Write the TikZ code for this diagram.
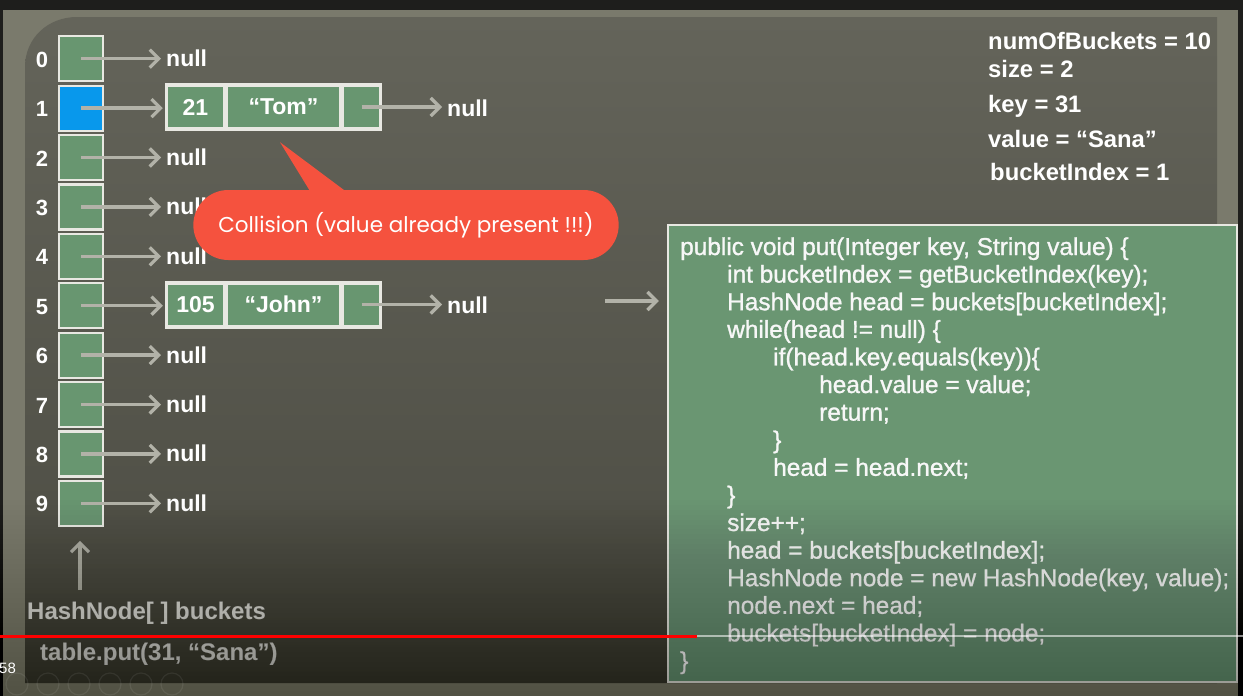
\documentclass[tikz,border=0pt]{standalone}
\usepackage{fontspec}
\setmainfont{Liberation Sans}
\newfontfamily\callfont{Poppins}
\newfontfamily\codefont{Liberation Sans}[FakeBold=1.2]
\usetikzlibrary{arrows.meta,shapes.misc}

\definecolor{frame}{RGB}{30,30,28}
\definecolor{texture}{RGB}{122,122,108}
\definecolor{paneltop}{RGB}{100,100,90}
\definecolor{panelbot}{RGB}{74,74,65}
\definecolor{cellgreen}{RGB}{104,150,112}
\definecolor{cellblue}{RGB}{8,152,236}
\definecolor{rim}{RGB}{232,232,226}
\definecolor{ptrgray}{RGB}{178,178,168}
\definecolor{alert}{RGB}{245,82,62}
\definecolor{codegreen}{RGB}{106,150,114}
\definecolor{dimtext}{RGB}{222,222,216}

\tikzset{
  cellbox/.style={draw=rim, line width=2.2pt, fill=cellgreen,
    minimum width=44pt, minimum height=45pt, inner sep=0pt},
  idx/.style={text=white, font=\bfseries\fontsize{22}{24}\selectfont, inner sep=0pt},
  nul/.style={text=white, font=\bfseries\fontsize{23}{25}\selectfont,
    inner sep=0pt, anchor=base west},
  ptr/.style={draw=ptrgray, line width=3.4pt,
    -{Straight Barb[length=9pt,width=18pt,line width=3.2pt]}},
  rec/.style={fill=rim, inner sep=0pt, minimum width=217pt, minimum height=48pt},
  field/.style={fill=cellgreen, inner sep=0pt, minimum height=40pt,
    text=white, font=\bfseries\fontsize{23}{25}\selectfont},
  info/.style={text=white, font=\bfseries\fontsize{23.8}{25}\selectfont,
    inner sep=0pt, anchor=base west},
  code/.style={text=white!94!gray, font=\codefont\fontsize{24.4}{28}\selectfont,
    inner sep=0pt, anchor=base west},
  caption/.style={text=dimtext, font=\bfseries\fontsize{24}{26}\selectfont,
    inner sep=0pt, anchor=base west},
}

\begin{document}
\begin{tikzpicture}[x=1pt,y=-1pt]
\useasboundingbox (0,0) rectangle (1243,696);

% frame, textured border and slide panel
\fill[frame] (0,0) rectangle (1243,696);
\fill[texture] (3,10) rectangle (1238,696);
\shade[top color=paneltop, bottom color=panelbot]
  (25,683) -- (25,67) .. controls (25,38) and (48,17) .. (77,17)
  -- (1217,17) -- (1217,683) -- cycle;

% bucket array
\foreach \i in {0,...,9}{
  \node[cellbox] (c\i) at (81,{58.7+49.4*\i}) {};
  \node[idx] (i\i) at (42,{59.7+49.4*\i}) {\i};
}
\node[cellbox, fill=cellblue] at (c1) {};

% empty buckets
\foreach \i in {0,2,3,4,6,7,8,9}{
  \node[nul] (n\i) at (166,{66.7+49.4*\i}) {null};
  \draw[ptr] (c\i.center) -- ([xshift=-5pt]c\i.center -| n\i.west);
}

% bucket 1 chain
\node[rec] (tom) at (273.5,107) {};
\node[field, minimum width=55pt] (tomk) at (195.5,107) {21};
\node[field, minimum width=111pt] (tomv) at (283.5,107) {“Tom”};
\node[field, minimum width=35pt] (tomn) at (361.5,107) {};
\node[nul] (tnull) at (447,116) {null};
\draw[ptr] (c1.center) -- ([xshift=-2pt]c1.center -| tom.west);
\draw[ptr] (tomn.center) -- ([xshift=-5pt]tomn.center -| tnull.west);

% bucket 5 chain
\node[rec] (john) at (273.5,304.5) {};
\node[field, minimum width=55pt] (johnk) at (195.5,304.5) {105};
\node[field, minimum width=111pt] (johnv) at (283.5,304.5) {“John”};
\node[field, minimum width=35pt] (johnn) at (361.5,304.5) {};
\node[nul] (jnull) at (447,313.5) {null};
\draw[ptr] (c5.center) -- ([xshift=-2pt]c5.center -| john.west);
\draw[ptr] (johnn.center) -- ([xshift=-5pt]johnn.center -| jnull.west);

% collision callout
\fill[alert] (tom.south) ++(6.5,11) coordinate (tip) -- (313,196) -- (352,196) -- cycle;
\node[rounded rectangle, fill=alert, minimum width=432pt, minimum height=70pt,
  text=white, font=\callfont\fontsize{21.5}{24}\selectfont] (coll) at (406,225)
  {Collision (value already present !!!)};

% state variables
\node[info] (v1) at (988,49) {numOfBuckets = 10};
\node[info] (v2) at (988,77) {size = 2};
\node[info] (v3) at (988,112) {key = 31};
\node[info] (v4) at (988,147) {value = “Sana”};
\node[info] (v5) at (990,180) {bucketIndex = 1};

% code listing
\node[draw=rim, line width=2.5pt, fill=codegreen, inner sep=0pt,
  minimum width=569pt, minimum height=457pt] (code) at (952.5,453.5) {};
\node[code] (l1)  at (680,255.0) {public void put(Integer key, String value) \{};
\node[code] (l2)  at (727,282.6) {int bucketIndex = getBucketIndex(key);};
\node[code] (l3)  at (727,310.2) {HashNode head = buckets[bucketIndex];};
\node[code] (l4)  at (727,337.8) {while(head != null) \{};
\node[code] (l5)  at (773,365.4) {if(head.key.equals(key))\{};
\node[code] (l6)  at (819,393.0) {head.value = value;};
\node[code] (l7)  at (819,420.6) {return;};
\node[code] (l8)  at (773,448.2) {\}};
\node[code] (l9)  at (773,475.8) {head = head.next;};
\node[code] (l10) at (727,503.4) {\}};
\node[code] (l11) at (727,531.0) {size++;};
\node[code] (l12) at (727,558.6) {head = buckets[bucketIndex];};
\node[code] (l13) at (727,586.2) {HashNode node = new HashNode(key, value);};
\node[code] (l14) at (727,613.8) {node.next = head;};
\node[code] (l15) at (727,641.4) {buckets[bucketIndex] = node;};
\node[code] (l16) at (680,669.0) {\}};
\coordinate (cur) at (605,301);
\draw[ptr] (cur) -- ([xshift=-8pt]cur -| code.west);

% captions
\node[caption] (hb) at (27,619) {HashNode[ ] buckets};
\node[caption, text=dimtext!95!gray] (call) at (40,660) {table.put(31, “Sana”)};
\coordinate (up) at (80,590);
\draw[ptr] (up) -- ([yshift=-14pt]up |- c9.south);

% player overlay: darkening that grows towards the bottom edge
\foreach \k in {0,...,39}
  \fill[black, opacity=0.009] (0,{500+4.9*\k}) rectangle (1243,696);
\draw[white, opacity=0.55, line width=2pt] (697,636) -- (1243,636);
\draw[red, line width=3pt] (0,636) -- (697,636);
\node[text=white, font=\fontsize{15}{16}\selectfont, inner sep=0pt, anchor=base west]
  (time) at (-1,673) {58};
\foreach \k in {0,...,5}
  \draw[white, opacity=0.07, line width=1.2pt] ({17+31*\k},684) circle (11pt);
\end{tikzpicture}
\end{document}
